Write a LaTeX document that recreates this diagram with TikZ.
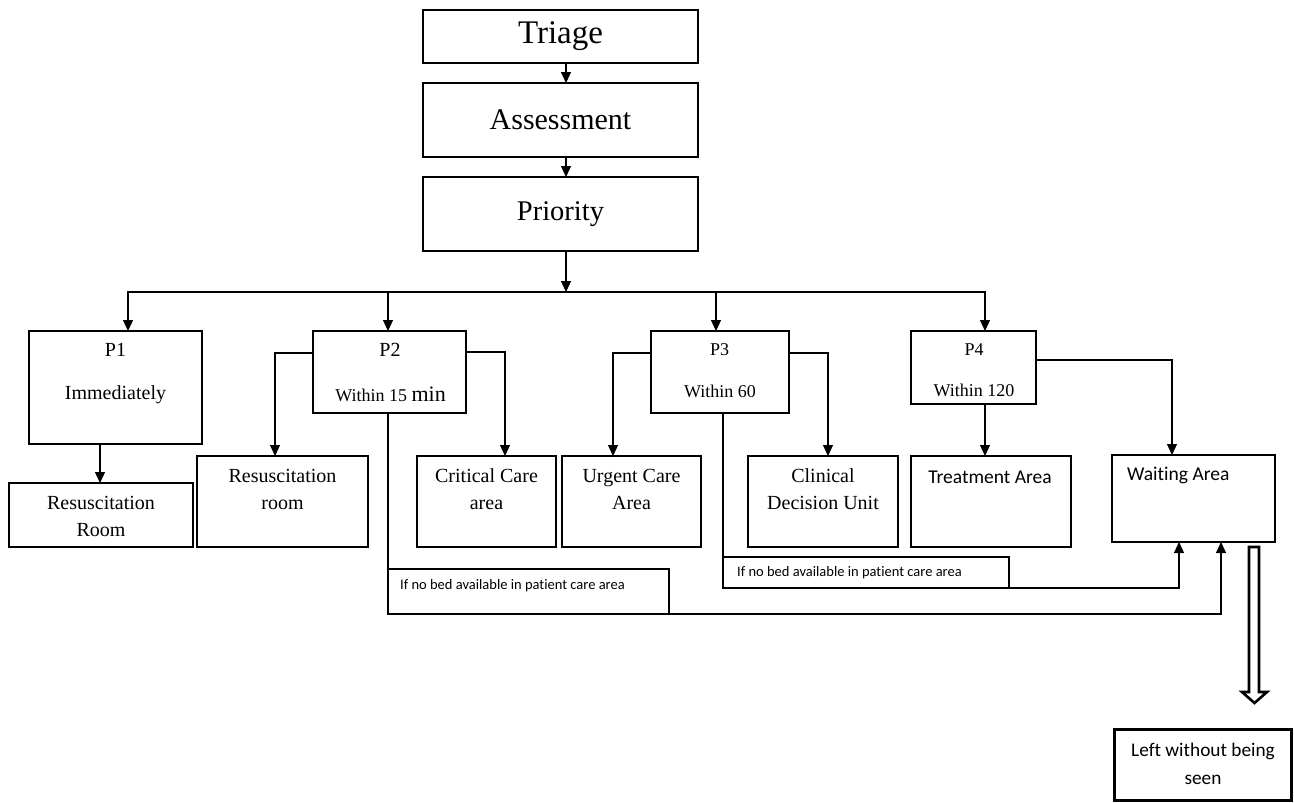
\documentclass[tikz,border=0pt]{standalone}
\usepackage{fontspec}
\setmainfont{Liberation Serif}
\newfontfamily\calfont[Ligatures=NoCommon]{Carlito}
\usetikzlibrary{arrows.meta}
\begin{document}
\begin{tikzpicture}[x=1pt,y=-1pt,
  box/.style={draw, line width=1.2pt, inner sep=0pt, outer sep=0pt},
  txt/.style={inner sep=0pt, align=center},
  conn/.style={line width=1.2pt},
  arr/.style={conn, -{Triangle[length=11pt,width=10pt]}},
  fMid/.style={font=\fontsize{20}{27}\selectfont},
  fSml/.style={font=\fontsize{18}{24}\selectfont},
  fCal/.style={font=\calfont\fontsize{19.5}{26}\selectfont},
  fCalS/.style={font=\calfont\fontsize{14.5}{18}\selectfont},
  fCalL/.style={font=\calfont\fontsize{19.3}{28}\selectfont}]
\useasboundingbox (0,0) rectangle (1294,803);
\fill[white] (0,0) rectangle (1294,803);

% top chain
\node[box, minimum width=275pt, minimum height=53pt, font=\fontsize{33}{36}\selectfont] (triage) at (560.5,36.5) {Triage};
\node[box, minimum width=275pt, minimum height=74pt, font=\fontsize{30}{34}\selectfont] (assess) at (560.5,120) {Assessment};
\node[box, minimum width=275pt, minimum height=74pt, font=\fontsize{28.5}{32}\selectfont] (prio) at (560.5,214) {Priority};

% priority boxes
\node[box, minimum width=173pt, minimum height=113pt] (p1) at (115.5,387.5) {};
\node[box, minimum width=153pt, minimum height=82pt] (p2) at (389.5,372) {};
\node[box, minimum width=138pt, minimum height=82pt] (p3) at (720,372) {};
\node[box, minimum width=125pt, minimum height=73pt] (p4) at (973.5,367.5) {};

\node[txt, fMid] (p1a) at (115.5,350) {P1};
\node[txt, fMid] (p1b) at (115.5,395) {Immediately};
\node[txt, fMid] (p2a) at (390,350) {P2};
\node[txt, fSml] (p2b) at (390.5,394) {Within 15 {\fontsize{22}{24}\selectfont min}};
\node[txt, fSml] (p3a) at (719.5,350) {P3};
\node[txt, fSml] (p3b) at (720,391) {Within 60};
\node[txt, fSml] (p4a) at (974,350) {P4};
\node[txt, fSml] (p4b) at (974,390) {Within 120};

% destination boxes
\node[box, minimum width=184pt, minimum height=64pt] (resroom) at (101,515) {};
\node[box, minimum width=171pt, minimum height=91pt] (resroom2) at (282.5,501.5) {};
\node[box, minimum width=139pt, minimum height=91pt] (crit) at (486.5,501.5) {};
\node[box, minimum width=139pt, minimum height=91pt] (urgent) at (631.5,501.5) {};
\node[box, minimum width=150pt, minimum height=91pt] (cdu) at (823,501.5) {};
\node[box, minimum width=160pt, minimum height=91pt] (treat) at (991,501.5) {};
\node[box, minimum width=163pt, minimum height=87pt] (wait) at (1193.5,498.5) {};

\node[txt, fMid] (resroomt) at (101,516.5) {Resuscitation\\Room};
\node[txt, fMid] (resroom2t) at (282.5,489.5) {Resuscitation\\room};
\node[txt, fMid] (critt) at (486.5,489.5) {Critical Care\\area};
\node[txt, fMid] (urgentt) at (631.5,489.5) {Urgent Care\\Area};
\node[txt, fMid] (cdut) at (823,489.5) {Clinical\\Decision Unit};
\node[txt, fCal] (treatt) at (990,477) {Treatment Area};
\node[txt, fCal, anchor=west] (waitt) at (1127,475) {Waiting Area};

% no-bed boxes
\node[box, minimum width=281pt, minimum height=45pt] (nobed2) at (528.5,591.5) {};
\node[box, minimum width=286pt, minimum height=31pt] (nobed3) at (866,572.5) {};
\node[txt, fCalS, anchor=west] (nobed2t) at (400,586) {If no bed available in patient care area};
\node[txt, fCalS, anchor=west] (nobed3t) at (737,573) {If no bed available in patient care area};

% left without being seen
\node[draw, line width=3pt, inner sep=0pt, minimum width=177pt, minimum height=71pt] (left) at (1203,765) {};
\node[txt, fCalL] (leftt) at (1203,764) {Left without being\\seen};

% spine
\coordinate (bus) at (566,292);
\draw[arr] (triage.south -| bus) -- (assess.north -| bus);
\draw[arr] (assess.south -| bus) -- (prio.north -| bus);
\draw[arr] (prio.south -| bus) -- (bus);
\draw[arr] (bus) -| (p1.north -| 128,0);
\draw[arr] (bus) -| (p2.north -| 388,0);
\draw[arr] (bus) -| (p3.north -| 716,0);
\draw[arr] (bus) -| (p4.north -| 985,0);

% branches
\draw[arr] (p1.south -| 100,0) -- (resroom.north -| 100,0);
\draw[arr] (p2.west |- 0,353) -| (resroom2.north -| 275,0);
\draw[arr] (p2.east |- 0,352) -| (crit.north -| 505,0);
\draw[arr] (p3.west |- 0,353) -| (urgent.north -| 613,0);
\draw[arr] (p3.east |- 0,353) -| (cdu.north -| 828,0);
\draw[arr] (p4.south -| 985,0) -- (treat.north -| 985,0);
\draw[arr] (p4.east |- 0,360) -| (wait.north -| 1172,0);

% overflow routes
\draw[arr] (p2.south -| 388,0) |- (1221,614) -- (wait.south -| 1221,0);
\draw[arr] (p3.south -| 723,0) |- (1179,588) -- (wait.south -| 1179,0);

% hollow block arrow
\draw[line width=2.6pt, line join=miter, fill=white]
  (1249,547) -- (1249,692) -- (1242,692) -- (1254.5,703) -- (1267,692) -- (1259,692) -- (1259,547) -- cycle;
\end{tikzpicture}
\end{document}
